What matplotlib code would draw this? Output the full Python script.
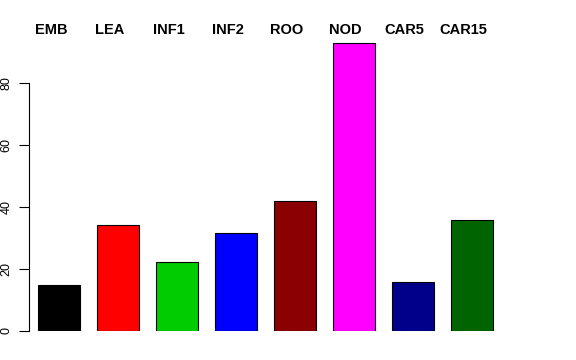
import numpy as np
import matplotlib
matplotlib.use('Agg')
import matplotlib.pyplot as plt

plt.rcParams['font.family'] = ['Liberation Sans', 'DejaVu Sans']

# data
tissues = ['EMB', 'LEA', 'INF1', 'INF2', 'ROO', 'NOD', 'CAR5', 'CAR15']
values = [14.8, 34.2, 22.3, 31.6, 41.9, 92.9, 15.8, 35.8]
colors = ['#000000', '#FF0000', '#00CD00', '#0000FF', '#8B0000',
          '#FF00FF', '#00008B', '#006400']

W, H = 576, 360
fig = plt.figure(figsize=(W / 100, H / 100), dpi=100)

px_per_unit = 42.1   # horizontal, bar width = 1 unit
px_per_y = 3.1       # vertical
x_left = 29          # pixel where the y axis sits
x0_pix = 38 - 0.4 * px_per_unit  # pixel of x = 0
xmin = (x_left - x0_pix) / px_per_unit
ax_w = W - x_left - 10
ymax = 100
ax = fig.add_axes([x_left / W, (H - 331) / H, ax_w / W, ymax * px_per_y / H])

pos = 0.9 + 1.4 * np.arange(len(tissues))
ax.bar(pos, values, width=1.0, color=colors, edgecolor='black', linewidth=0.8)

ax.set_xlim(xmin, xmin + ax_w / px_per_unit)
ax.set_ylim(0, ymax)

for s in ['top', 'right', 'bottom']:
    ax.spines[s].set_visible(False)
ax.spines['left'].set_bounds(0, 80)
ax.spines['left'].set_linewidth(0.8)
ax.set_xticks([])
ax.set_yticks([0, 20, 40, 60, 80])
ax.tick_params(axis='y', length=7, width=0.8, labelsize=9, pad=5)
for lab in ax.get_yticklabels():
    lab.set_rotation(90)
    lab.set_va('center')

# tissue names above the bars
for p, name in zip(pos, tissues):
    xpix = x0_pix + p * px_per_unit - 8
    fig.text(xpix / W, (H - 30) / H, name, ha='center', va='center',
             fontsize=10.5, fontweight='bold')

fig.savefig('out.png', dpi=100)
